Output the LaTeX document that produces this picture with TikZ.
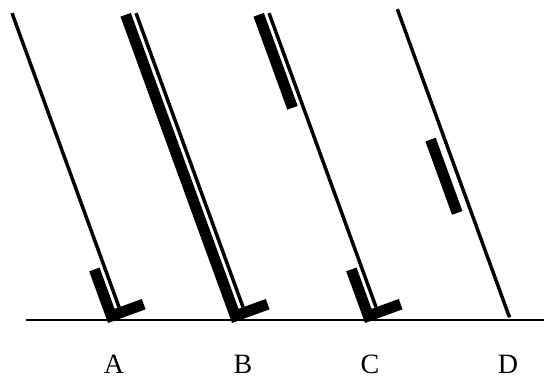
\documentclass[tikz,border=0pt]{standalone}
\usepackage{fontspec}
\setmainfont{Liberation Serif}
\tikzset{
  escaire/.style={fill=black},
  barra/.style={fill=black},
  pal/.style={draw=black, line width=2.6pt},
  terra/.style={draw=black, line width=1.1pt},
  lletra/.style={font=\fontsize{21}{25}\selectfont, anchor=base},
}

\begin{document}
\begin{tikzpicture}[x=0.75pt,y=0.75pt]
  \useasboundingbox (0,0) rectangle (544,381);

  % Línia de terra.
  \draw[terra] (26,61) -- (544,61);

  % Pal A: escaire curt al peu.
  \begin{scope}[shift={(108,58)}, rotate=20]
    \fill[escaire] (0,0) -- (40,0) -- (40,11) -- (11,11) -- (11,55) -- (0,55) -- cycle;
    \draw[pal] (15.8,11) -- (15.8,324);
  \end{scope}

  % Pal B: escaire llarg, de tota l'alçada.
  \begin{scope}[shift={(232,58)}, rotate=20]
    \fill[escaire] (0,0) -- (40,0) -- (40,11) -- (11,11) -- (11,326) -- (0,326) -- cycle;
    \draw[pal] (15.8,11) -- (15.8,324);
  \end{scope}

  % Pal C: escaire curt i un tros de barra a dalt.
  \begin{scope}[shift={(365,58)}, rotate=20]
    \fill[escaire] (0,0) -- (40,0) -- (40,11) -- (11,11) -- (11,55) -- (0,55) -- cycle;
    \fill[barra] (0,227) rectangle (11,326);
    \draw[pal] (15.8,11) -- (15.8,324);
  \end{scope}

  % Pal D: sense escaire, barra solta al mig.
  \begin{scope}[shift={(494,58)}, rotate=20]
    \fill[barra] (-2.4,116) rectangle (8.6,194);
    \draw[pal] (16.5,0) -- (16.5,328);
  \end{scope}

  % Rètols.
  \node[lletra] (A) at (114,7) {A};
  \node[lletra] (B) at (243,7) {B};
  \node[lletra] (C) at (370,7) {C};
  \node[lletra] (D) at (508,7) {D};
\end{tikzpicture}
\end{document}
